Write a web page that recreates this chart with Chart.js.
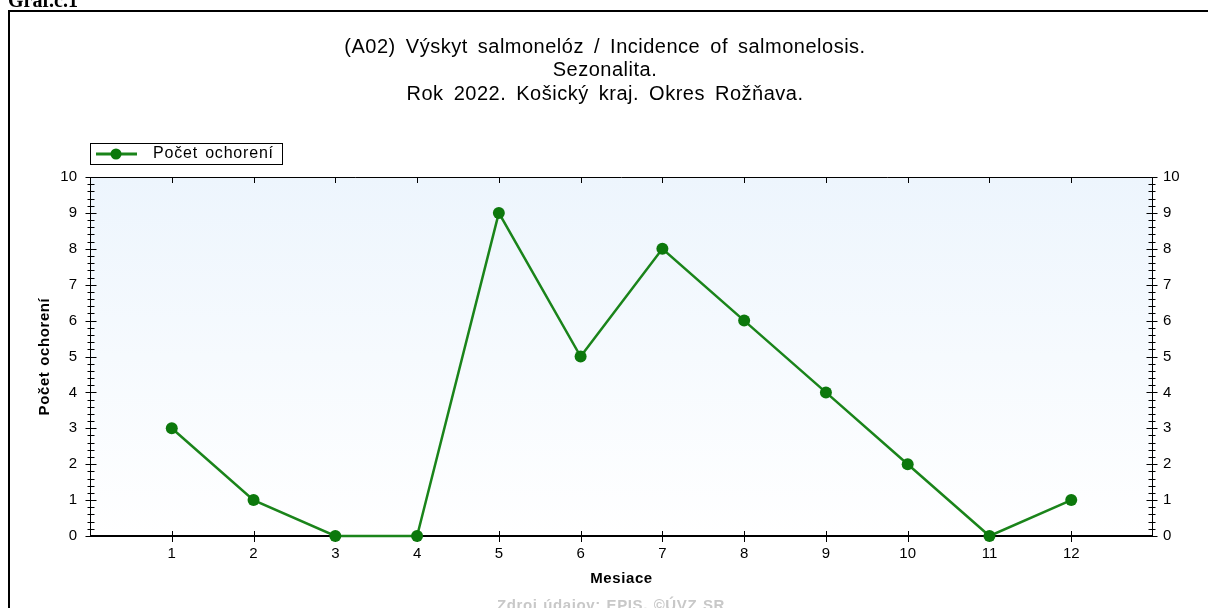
<!DOCTYPE html>
<html>
<head>
<meta charset="utf-8">
<script src="https://cdn.jsdelivr.net/npm/chart.js@4"></script>
<style>
  html, body { margin: 0; padding: 0; background: #fff; overflow: hidden; }
  #wrap { position: absolute; left: 0; top: 0; width: 1208px; height: 608px; }
</style>
</head>
<body>
<div id="wrap"><canvas id="c" width="1208" height="608"></canvas></div>
<script>
// ---- data ----
var months = [1, 2, 3, 4, 5, 6, 7, 8, 9, 10, 11, 12];
var cases = [3, 1, 0, 0, 9, 5, 8, 6, 4, 2, 0, 1];
var yTicks = [0, 1, 2, 3, 4, 5, 6, 7, 8, 9, 10];
var titleLines = [
    '(A02) Výskyt salmonelóz / Incidence of salmonelosis.',
    'Sezonalita.',
    'Rok 2022. Košický kraj. Okres Rožňava.'
];
var seriesLabel = 'Počet ochorení';
var xTitle = 'Mesiace';
var yTitle = 'Počet ochorení';
var sourceText = 'Zdroj údajov: EPIS, ©ÚVZ SR';

var FONT = '"Liberation Sans", Arial, sans-serif';
var LINE = '#1a841a';
var DOT = '#0c780c';

var points = months.map(function (m, i) { return { x: m, y: cases[i] }; });

// the reference text is set a bit wide (GDI style spacing)
function spaced(ctx, ls, ws) {
    ctx.letterSpacing = ls + 'px';
    ctx.wordSpacing = ws + 'px';
}

// background gradient, ticks, frame and texts
var decor = {
    id: 'decor',
    beforeDatasetsDraw: function (chart) {
        var ctx = chart.ctx, a = chart.chartArea;
        var g = ctx.createLinearGradient(0, a.top, 0, a.bottom);
        g.addColorStop(0, '#edf5fd');
        g.addColorStop(1, '#ffffff');
        ctx.save();
        ctx.fillStyle = g;
        ctx.fillRect(a.left, a.top, a.right - a.left, a.bottom - a.top);

        ctx.strokeStyle = '#000';
        ctx.lineWidth = 1;
        ctx.beginPath();
        ctx.moveTo(a.left, a.top + 0.5); ctx.lineTo(a.right, a.top + 0.5);
        ctx.moveTo(a.left + 0.5, a.top); ctx.lineTo(a.left + 0.5, a.bottom);
        ctx.moveTo(a.right - 0.5, a.top); ctx.lineTo(a.right - 0.5, a.bottom);
        ctx.stroke();
        ctx.lineWidth = 2;
        ctx.beginPath();
        ctx.moveTo(a.left, a.bottom); ctx.lineTo(a.right, a.bottom);
        ctx.stroke();

        // y ticks on both axes, minor every 0.2
        ctx.lineWidth = 1;
        var ys = chart.scales.y;
        ctx.beginPath();
        for (var v = 0; v <= 50; v++) {
            var py = Math.round(ys.getPixelForValue(v / 5)) + 0.5;
            var h = v % 5 === 0 ? 5 : 3;
            ctx.moveTo(a.left + 0.5 - h, py); ctx.lineTo(a.left + 0.5 + h + 1, py);
            ctx.moveTo(a.right - 0.5 - h - 1, py); ctx.lineTo(a.right - 0.5 + h, py);
        }
        var xs = chart.scales.x;
        months.forEach(function (m) {
            var px = Math.round(xs.getPixelForValue(m)) + 0.5;
            ctx.moveTo(px, a.bottom - 5); ctx.lineTo(px, a.bottom + 6);
            ctx.moveTo(px, a.top); ctx.lineTo(px, a.top + 6);
        });
        ctx.stroke();
        ctx.restore();
    },
    afterDraw: function (chart) {
        var ctx = chart.ctx, a = chart.chartArea;
        ctx.save();
        ctx.strokeStyle = '#000';
        ctx.lineWidth = 2;
        ctx.beginPath();
        ctx.moveTo(9, 608); ctx.lineTo(9, 11); ctx.lineTo(1208, 11);
        ctx.stroke();

        // page heading, cut off at the top
        ctx.fillStyle = '#000';
        ctx.font = 'bold 20px "Liberation Serif", "Times New Roman", serif';
        ctx.textAlign = 'left';
        ctx.textBaseline = 'alphabetic';
        ctx.fillText('Graf.č.1', 8, 7);

        // titles
        spaced(ctx, 0.5, 4);
        ctx.font = '20px ' + FONT;
        ctx.textAlign = 'center';
        ctx.textBaseline = 'middle';
        titleLines.forEach(function (t, i) {
            ctx.fillText(t, 605, 47 + i * 23.5);
        });

        // legend
        spaced(ctx, 0, 0);
        ctx.fillStyle = '#fff';
        ctx.fillRect(90, 143, 192, 21);
        ctx.strokeStyle = '#000';
        ctx.lineWidth = 1;
        ctx.strokeRect(90.5, 143.5, 192, 21);
        ctx.strokeStyle = LINE;
        ctx.lineWidth = 3;
        ctx.beginPath();
        ctx.moveTo(96, 154); ctx.lineTo(137, 154);
        ctx.stroke();
        ctx.fillStyle = DOT;
        ctx.beginPath();
        ctx.arc(116, 154, 5.5, 0, Math.PI * 2);
        ctx.fill();
        ctx.fillStyle = '#000';
        spaced(ctx, 0.8, 2);
        ctx.font = '16px ' + FONT;
        ctx.textAlign = 'left';
        ctx.fillText(seriesLabel, 153, 154);

        // axis titles
        spaced(ctx, 0.6, 1);
        ctx.font = 'bold 15px ' + FONT;
        ctx.textAlign = 'center';
        ctx.fillText(xTitle, (a.left + a.right) / 2, 579);
        ctx.save();
        ctx.font = 'bold 15px ' + FONT;
        ctx.translate(45, (a.top + a.bottom) / 2);
        ctx.rotate(-Math.PI / 2);
        ctx.fillText(yTitle, 0, 0);
        ctx.restore();

        // source
        ctx.fillStyle = '#c8c8c8';
        ctx.font = 'bold 15px ' + FONT;
        ctx.fillText(sourceText, 611, 606);
        ctx.restore();
    }
};

var tickFont = { family: FONT, size: 15 };

new Chart(document.getElementById('c'), {
    type: 'line',
    data: {
        datasets: [{
            label: seriesLabel,
            data: points,
            borderColor: LINE,
            borderWidth: 2.5,
            backgroundColor: DOT,
            pointBackgroundColor: DOT,
            pointBorderColor: DOT,
            pointRadius: 6,
            pointBorderWidth: 0,
            tension: 0,
            clip: false
        }]
    },
    options: {
        responsive: false,
        animation: false,
        devicePixelRatio: 1,
        layout: { padding: { top: 177, left: 0, right: 0, bottom: 0 } },
        plugins: { legend: { display: false }, title: { display: false }, tooltip: { enabled: false } },
        scales: {
            x: {
                type: 'linear',
                min: 0, max: 13,
                grid: { display: false, drawTicks: false },
                border: { display: false },
                ticks: {
                    stepSize: 1,
                    padding: 9,
                    color: '#000',
                    font: tickFont,
                    maxRotation: 0,
                    callback: function (v) { return months.indexOf(v) >= 0 ? String(v) : ''; }
                },
                afterFit: function (s) { s.height = 72; }
            },
            y: {
                position: 'left',
                min: 0, max: 10,
                grid: { display: false, drawTicks: false },
                border: { display: false },
                afterBuildTicks: function (s) { s.ticks = yTicks.map(function (v) { return { value: v }; }); },
                ticks: { padding: 13, color: '#000', font: tickFont },
                afterFit: function (s) { s.width = 90; }
            },
            y2: {
                position: 'right',
                min: 0, max: 10,
                grid: { display: false, drawTicks: false },
                border: { display: false },
                afterBuildTicks: function (s) { s.ticks = yTicks.map(function (v) { return { value: v }; }); },
                ticks: { padding: 10, color: '#000', font: tickFont },
                afterFit: function (s) { s.width = 55; }
            }
        }
    },
    plugins: [decor]
});
</script>
</body>
</html>
